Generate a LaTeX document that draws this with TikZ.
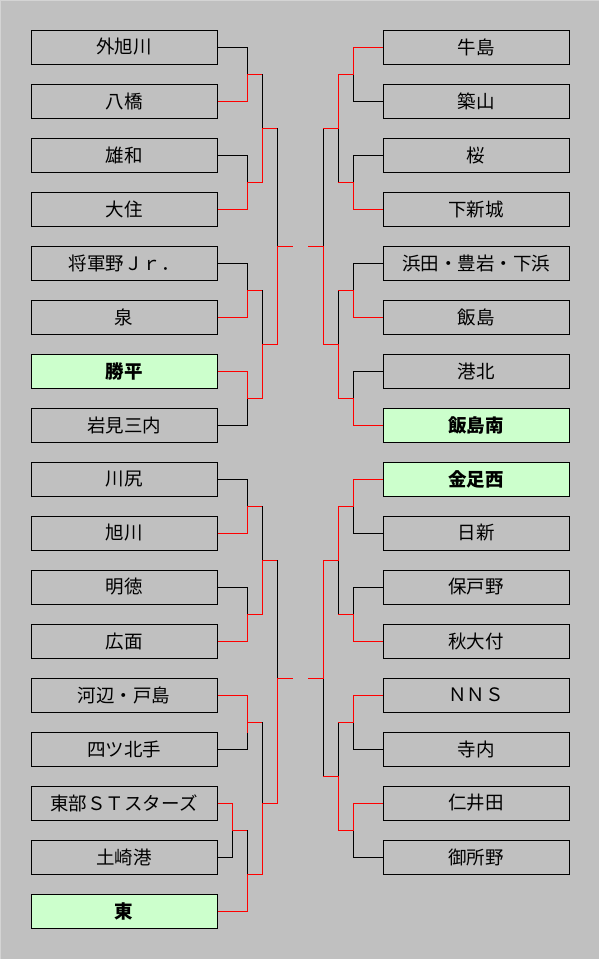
\documentclass[tikz,border=0pt]{standalone}
\usepackage{fontspec}
\setmainfont{Noto Sans CJK JP}
\definecolor{bggray}{HTML}{C0C0C0}
\definecolor{edgegray}{HTML}{D4D4D4}
\definecolor{winfill}{HTML}{CCFFCC}
\tikzset{
  teambox/.style={draw=black, line width=1pt, minimum width=186pt, minimum height=34pt,
    inner sep=0pt, font=\fontsize{18.5pt}{18.5pt}\selectfont},
  winbox/.style={teambox, fill=winfill, font=\fontsize{18.5pt}{18.5pt}\selectfont\bfseries},
  lose/.style={draw=black, line width=1pt},
  win/.style={draw=red, line width=1pt},
}
\begin{document}
\begin{tikzpicture}[x=1pt,y=-1pt]
\useasboundingbox (0,0) rectangle (599,959);
\fill[bggray] (0,0) rectangle (599,959);
\draw[edgegray, line width=1pt] (0.5,959) -- (0.5,0.5) -- (599,0.5);
% left boxes
\foreach \k/\t in {0/外旭川,1/八橋,2/雄和,3/大住,4/将軍野Ｊｒ．,5/泉,7/岩見三内,
  8/川尻,9/旭川,10/明徳,11/広面,12/河辺・戸島,13/四ツ北手,14/東部ＳＴスターズ,15/土崎港}
  \node[teambox] (L\k) at (124,{47+54*\k}) {\t};
\node[winbox] (L6) at (124,{47+54*6}) {勝平};
\node[winbox] (L16) at (124,{47+54*16}) {東};
% right boxes
\foreach \k/\t in {0/牛島,1/築山,2/桜,3/下新城,4/浜田・豊岩・下浜,5/飯島,6/港北,
  9/日新,10/保戸野,11/秋大付,12/ＮＮＳ,13/寺内,14/仁井田,15/御所野}
  \node[teambox] (R\k) at (476,{47+54*\k}) {\t};
\node[winbox] (R7) at (476,{47+54*7}) {飯島南};
\node[winbox] (R8) at (476,{47+54*8}) {金足西};
% join coordinates
\coordinate (cL1) at (293,246);
\coordinate (cR1) at (308,246);
\coordinate (cL2) at (293,678);
\coordinate (cR2) at (308,678);
% ---------- black (losing) lines ----------
% left top
\draw[lose] (L0.east) -- (247,47) -- (247,74);
\draw[lose] (L2.east) -- (247,155) -- (247,182);
\draw[lose] (262,74) -- (262,128);
\draw[lose] (L4.east) -- (247,263) -- (247,290);
\draw[lose] (L7.east) -- (247,425) -- (247,398);
\draw[lose] (262,290) -- (262,344);
\draw[lose] (277,128) -- (277,246);
% right top
\draw[lose] (R1.west) -- (353,101) -- (353,74);
\draw[lose] (R2.west) -- (353,155) -- (353,182);
\draw[lose] (338,182) -- (338,128);
\draw[lose] (R4.west) -- (353,263) -- (353,290);
\draw[lose] (R6.west) -- (353,371) -- (353,398);
\draw[lose] (338,290) -- (338,344);
\draw[lose] (323,128) -- (323,246);
% left bottom
\draw[lose] (L8.east) -- (247,479) -- (247,506);
\draw[lose] (L10.east) -- (247,587) -- (247,614);
\draw[lose] (262,506) -- (262,560);
\draw[lose] (L13.east) -- (247,749) -- (247,733);
\draw[lose] (L15.east) -- (232,857) -- (232,830);
\draw[lose] (247,830) -- (247,874);
\draw[lose] (262,722) -- (262,803);
\draw[lose] (277,560) -- (277,678);
% right bottom
\draw[lose] (R9.west) -- (353,533) -- (353,506);
\draw[lose] (R10.west) -- (353,587) -- (353,614);
\draw[lose] (338,614) -- (338,560);
\draw[lose] (R13.west) -- (353,749) -- (353,722);
\draw[lose] (R15.west) -- (353,857) -- (353,830);
\draw[lose] (338,722) -- (338,776);
\draw[lose] (323,776) -- (323,678);
% ---------- red (winning) lines ----------
% left top
\draw[win] (L1.east) -- (247,101) -- (247,74) -- (262,74);
\draw[win] (L3.east) -- (247,209) -- (247,182) -- (262,182) -- (262,128) -- (277,128);
\draw[win] (L5.east) -- (247,317) -- (247,290) -- (262,290);
\draw[win] (L6.east) -- (247,371) -- (247,398) -- (262,398) -- (262,344) -- (277,344) -- (277,246) -- (cL1);
% right top
\draw[win] (R0.west) -- (353,47) -- (353,74) -- (338,74) -- (338,128) -- (323,128);
\draw[win] (R3.west) -- (353,209) -- (353,182) -- (338,182);
\draw[win] (R5.west) -- (353,317) -- (353,290) -- (338,290);
\draw[win] (R7.west) -- (353,425) -- (353,398) -- (338,398) -- (338,344) -- (323,344) -- (323,246) -- (cR1);
% left bottom
\draw[win] (L9.east) -- (247,533) -- (247,506) -- (262,506);
\draw[win] (L11.east) -- (247,641) -- (247,614) -- (262,614) -- (262,560) -- (277,560);
\draw[win] (L12.east) -- (247,695) -- (247,733);
\draw[win] (247,722) -- (262,722);
\draw[win] (L14.east) -- (232,803) -- (232,830) -- (247,830);
\draw[win] (L16.east) -- (247,911) -- (247,874) -- (262,874) -- (262,803) -- (277,803) -- (277,678) -- (cL2);
% right bottom
\draw[win] (R8.west) -- (353,479) -- (353,506) -- (338,506) -- (338,560) -- (323,560) -- (323,678) -- (cR2);
\draw[win] (R11.west) -- (353,641) -- (353,614) -- (338,614);
\draw[win] (R12.west) -- (353,695) -- (353,722) -- (338,722);
\draw[win] (R14.west) -- (353,803) -- (353,830) -- (338,830) -- (338,776) -- (323,776);
\end{tikzpicture}
\end{document}
